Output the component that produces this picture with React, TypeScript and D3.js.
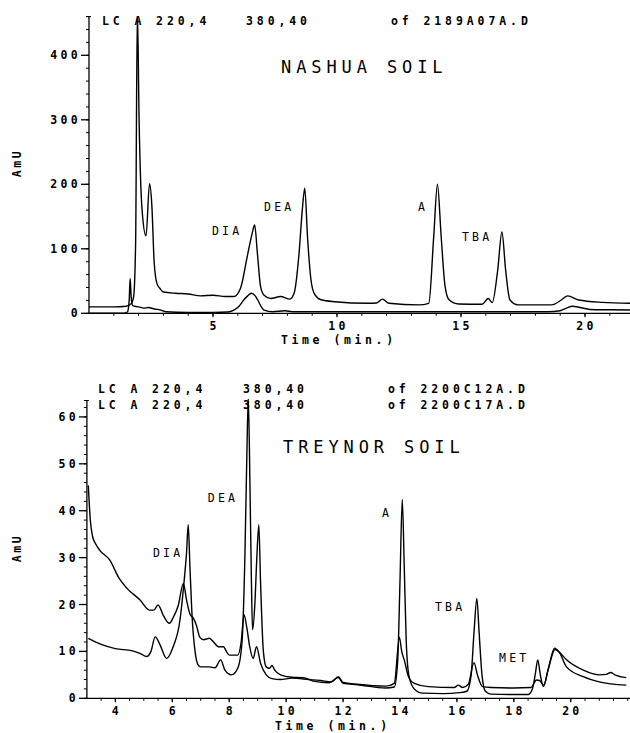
import React from 'react';
import * as d3 from 'd3';

const W = 630;
const H = 733;
const FONT = '"DejaVu Sans Mono", "Liberation Mono", monospace';

// ---- Nashua soil (top) ----
const nashuaTimeS = [0, 1.0, 1.5, 1.7, 1.8, 1.88, 1.95, 2.02, 2.14, 2.3, 2.44, 2.53, 2.63, 2.74, 2.87, 3.0, 3.5, 4.0, 4.5, 5.0, 5.5, 5.84, 6.11, 6.38, 6.58, 6.68, 6.79, 6.92, 7.06, 7.33, 7.73, 8.1, 8.27, 8.47, 8.6, 8.7, 8.81, 8.95, 9.08, 9.36, 9.9, 11.25, 11.6, 11.83, 12.1, 13.3, 13.7, 13.9, 14.05, 14.2, 14.36, 14.52, 14.9, 15.85, 16.1, 16.26, 16.48, 16.65, 16.8, 16.97, 17.3, 18.65, 19.06, 19.3, 19.75, 20.7, 21.9];
const nashuaAbsS = [10, 10, 11, 15, 26, 109, 470, 300, 160, 120, 201, 170, 78, 46, 38, 33, 31, 30, 27, 28, 26, 26, 39, 88, 124, 137, 93, 41, 28, 23, 26, 22, 31, 93, 160, 194, 119, 52, 31, 21, 18, 15.5, 16, 22, 15.5, 13, 15.5, 119, 200, 119, 41, 21, 14.4, 14, 23, 16.5, 67, 126, 67, 21, 13, 13, 21, 27, 20.6, 17, 15.5];
const nashuaTimeB = [0, 1.4, 1.55, 1.62, 1.66, 1.7, 1.76, 1.85, 2.0, 2.2, 2.4, 2.6, 2.9, 3.1, 4.0, 5.0, 5.6, 5.84, 6.05, 6.24, 6.4, 6.55, 6.7, 6.8, 6.95, 7.06, 7.4, 7.9, 8.2, 9, 12, 15, 18.5, 19.0, 19.25, 19.5, 19.8, 20.2, 21, 21.9];
const nashuaAbsB = [0, 0, 2, 20, 54, 25, 12, 11, 10, 8, 9, 7, 5, 2.5, 1.5, 1.5, 2, 5, 11, 20.6, 27, 31, 27, 21, 10, 5, 2.5, 4, 2.5, 2.5, 2.5, 2.5, 2.5, 4, 8, 11, 9, 6, 5.5, 5];
const nashuaPeakNames = ['DIA', 'DEA', 'A', 'TBA'];
const nashuaPeakTimes = [4.96, 7.06, 13.27, 15.04];
const nashuaPeakAbs = [121, 158, 158, 112];
const nashuaYTicks = [0, 100, 200, 300, 400];
const nashuaXTicks = [5, 10, 15, 20];

// ---- Treynor soil (bottom) ----
const treynorTimeA = [3.05, 3.12, 3.2, 3.3, 3.46, 3.8, 4.14, 4.4, 4.86, 5.2, 5.35, 5.5, 5.7, 5.9, 6.03, 6.21, 6.39, 6.5, 6.62, 6.75, 6.85, 6.97, 7.1, 7.3, 7.45, 7.62, 7.8, 7.9, 8.0, 8.3, 8.42, 8.52, 8.62, 8.72, 8.84, 8.96, 9.1, 9.3, 9.5, 9.8, 10.2, 10.8, 11.2, 11.6, 11.83, 12.0, 12.5, 13.5, 13.8, 13.98, 14.06, 14.15, 14.3, 14.5, 15.0, 15.9, 16.05, 16.2, 16.4, 16.6, 16.72, 16.9, 17.2, 18.0, 18.6, 18.8, 18.9, 19.05, 19.2, 19.45, 19.6, 19.85, 20.44, 21.0, 21.25, 21.4, 21.55, 21.95];
const treynorAbsA = [45.4, 38, 34.5, 33, 31.5, 29.5, 25.5, 23.5, 21, 18.8, 18.8, 19.9, 17.5, 16, 17.2, 19.8, 24.5, 21, 18, 17, 15.5, 13, 12.5, 12.8, 12, 11, 11, 10, 9.2, 9.2, 12, 17.8, 15, 11, 8.5, 11, 7.5, 5, 4.2, 4, 4.3, 4, 3.8, 3.5, 4.6, 3.4, 3, 2.6, 3.2, 13, 10, 8.2, 4.6, 3.2, 2.5, 2.3, 2.8, 2.3, 3, 7.6, 5, 2.5, 2.3, 2.2, 2.3, 3.9, 3.8, 2.8, 6, 10.4, 9.8, 8.2, 6, 5, 5.1, 5.5, 5, 4.4];
const treynorTimeB = [3.05, 3.5, 4.0, 4.6, 4.86, 5.1, 5.25, 5.4, 5.57, 5.8, 6.03, 6.27, 6.4, 6.5, 6.56, 6.62, 6.7, 6.8, 6.9, 7.0, 7.3, 7.5, 7.7, 7.85, 8.08, 8.3, 8.45, 8.55, 8.62, 8.67, 8.73, 8.78, 8.82, 8.9, 8.97, 9.04, 9.1, 9.2, 9.3, 9.42, 9.5, 9.6, 9.8, 10.2, 10.6, 11.0, 11.5, 11.83, 12.0, 12.5, 13.5, 13.8, 13.92, 14.0, 14.08, 14.15, 14.22, 14.32, 14.5, 14.8, 15.5, 16.1, 16.35, 16.5, 16.6, 16.7, 16.78, 16.88, 17.0, 17.2, 18.0, 18.5, 18.65, 18.75, 18.84, 18.93, 19.04, 19.2, 19.43, 19.6, 19.85, 20.44, 21.0, 21.95];
const treynorAbsB = [12.8, 11.5, 10.6, 10.1, 9.6, 8.9, 10, 13.1, 11.4, 8.5, 11, 16.7, 24, 31, 37, 28, 17, 10, 7.2, 6.7, 6.7, 6.5, 8.2, 6, 5, 6.4, 12, 30, 52, 64, 45, 25, 14.6, 20, 30, 37, 25, 10, 6.7, 6.4, 7, 6, 5, 4.5, 4.4, 3.6, 3.3, 4.4, 3.2, 2.9, 2.2, 2.4, 8, 25, 42.4, 28, 12, 4.6, 2, 1.1, 1, 1.2, 1.5, 5, 14, 21.3, 14, 5, 1.5, 0.9, 0.8, 0.8, 2, 5, 8.2, 5, 2.5, 6, 10.7, 9.8, 6.7, 4.6, 3.5, 2.8];
const treynorPeakNames = ['DIA', 'DEA', 'A', 'TBA', 'MET'];
const treynorPeakTimes = [5.32, 7.25, 13.37, 15.23, 17.48];
const treynorPeakAbs = [30.1, 41.9, 38.7, 18.6, 7.7];
const treynorYTicks = [0, 10, 20, 30, 40, 50, 60];
const treynorXTicks = [4, 6, 8, 10, 12, 14, 16, 18, 20];

const xTop = d3.scaleLinear().domain([0, 22]).range([89, 634.6]);
const yTop = d3.scaleLinear().domain([0, 460]).range([313.3, 16.6]);
const xBot = d3.scaleLinear().domain([3, 22]).range([86.9, 627.7]);
const yBot = d3.scaleLinear().domain([0, 63.5]).range([698.3, 400.5]);

const tickStyle = { fontFamily: FONT, fontSize: 11.5, fontWeight: 700, letterSpacing: 3.3 } as const;
const headStyle = { fontFamily: FONT, fontSize: 11.5, fontWeight: 700, letterSpacing: 3.9 } as const;
const titleStyle = { fontFamily: FONT, fontSize: 17, fontWeight: 400, letterSpacing: 4.9 } as const;
const peakStyle = { fontFamily: FONT, fontSize: 11.5, fontWeight: 400, letterSpacing: 3.2 } as const;

function tracePath(x, y, times, values) {
  const line = d3.line<number>()
    .x((_, i) => x(times[i]))
    .y(d => y(d))
    .curve(d3.curveMonotoneX);
  return line(values);
}

function Axes({ x, y, yMajor, yMinor, xMajor, xMinor, id }) {
  const x0 = x.range()[0];
  const yTopEnd = y.range()[1];
  const y0 = y(0);
  return (
    <g stroke="#000" fill="none">
      <line x1={x0} x2={x0} y1={y0} y2={yTopEnd} strokeWidth={1.3} />
      <line x1={x0} x2={W} y1={y0} y2={y0} strokeWidth={1.2} />
      {yMinor.map(v => (
        <line key={`ym${id}${v}`} x1={x0 - 3} x2={x0} y1={y(v)} y2={y(v)} strokeWidth={1} />
      ))}
      <line x1={x0 - 3} x2={x0 + 2} y1={yTopEnd} y2={yTopEnd} strokeWidth={1} />
      {yMajor.map(v => (
        <line key={`yM${id}${v}`} x1={x0 - 8} x2={x0} y1={y(v)} y2={y(v)} strokeWidth={1.3} />
      ))}
      {xMinor.map(v => (
        <line key={`xm${id}${v}`} x1={x(v)} x2={x(v)} y1={y0} y2={y0 + 2.5} strokeWidth={1} />
      ))}
      {xMajor.map(v => (
        <line key={`xM${id}${v}`} x1={x(v)} x2={x(v)} y1={y0} y2={y0 + 4} strokeWidth={1.2} />
      ))}
      <g stroke="none" fill="#000">
        {yMajor.map(v => (
          <text key={`yl${id}${v}`} x={x0 - 8} y={y(v) + 4} textAnchor="end" style={tickStyle}>{v}</text>
        ))}
      </g>
    </g>
  );
}

export default function App() {
  const yTopMinor = d3.range(0, 461, 20);
  const xTopMinor = d3.range(1, 22, 1);
  const yBotMinor = d3.range(0, 63.5, 2);
  const xBotMinor = d3.range(3.5, 22.01, 0.5);

  return (
    <div style={{ position: 'absolute', left: 0, top: 0, width: W, height: H, background: '#fff' }}>
      <svg width={W} height={H} style={{ display: 'block' }}>
        <rect width={W} height={H} fill="#fff" />
        <defs>
          <clipPath id="clipTop">
            <rect x={89} y={16} width={W - 89} height={300} />
          </clipPath>
          <clipPath id="clipBot">
            <rect x={86.9} y={399} width={W - 86.9} height={302} />
          </clipPath>
        </defs>

        {/* top panel */}
        <text x={102} y={25} style={headStyle}>LC A 220,4</text>
        <text x={246} y={25} style={headStyle}>380,40</text>
        <text x={391} y={25} style={headStyle}>of 2189A07A.D</text>
        <text x={281} y={73} style={titleStyle}>NASHUA SOIL</text>
        <Axes x={xTop} y={yTop} yMajor={nashuaYTicks} yMinor={yTopMinor} xMajor={nashuaXTicks} xMinor={xTopMinor} id="t" />
        {nashuaXTicks.map(v => (
          <text key={`xt${v}`} x={xTop(v)} dx={1.6} y={330} textAnchor="middle" style={tickStyle}>{v}</text>
        ))}
        <text x={xTop(10)} dx={1.8} y={344} textAnchor="middle" style={{ ...tickStyle, letterSpacing: 3.6 }}>Time (min.)</text>
        <text transform="translate(21,163) rotate(-90)" textAnchor="middle" style={{ ...tickStyle, letterSpacing: 2.5 }}>AmU</text>
        <g clipPath="url(#clipTop)" fill="none" stroke="#000" strokeWidth={1.4} strokeLinejoin="round">
          <path d={tracePath(xTop, yTop, nashuaTimeB, nashuaAbsB)} />
          <path d={tracePath(xTop, yTop, nashuaTimeS, nashuaAbsS)} />
        </g>
        {nashuaPeakNames.map((n, i) => (
          <text key={`np${n}`} x={xTop(nashuaPeakTimes[i])} y={yTop(nashuaPeakAbs[i])} style={peakStyle}>{n}</text>
        ))}

        {/* bottom panel */}
        <text x={98} y={393} style={headStyle}>LC A 220,4</text>
        <text x={243} y={393} style={headStyle}>380,40</text>
        <text x={388} y={393} style={headStyle}>of 2200C12A.D</text>
        <text x={98} y={409} style={headStyle}>LC A 220,4</text>
        <text x={243} y={409} style={headStyle}>380,40</text>
        <text x={388} y={409} style={headStyle}>of 2200C17A.D</text>
        <text x={283} y={452.5} style={titleStyle}>TREYNOR SOIL</text>
        <Axes x={xBot} y={yBot} yMajor={treynorYTicks} yMinor={yBotMinor} xMajor={treynorXTicks} xMinor={xBotMinor} id="b" />
        {treynorXTicks.map(v => (
          <text key={`bt${v}`} x={xBot(v)} dx={1.6} y={715} textAnchor="middle" style={tickStyle}>{v}</text>
        ))}
        <text x={331} dx={1.8} y={730} textAnchor="middle" style={{ ...tickStyle, letterSpacing: 3.6 }}>Time (min.)</text>
        <text transform="translate(21,548) rotate(-90)" textAnchor="middle" style={{ ...tickStyle, letterSpacing: 2.5 }}>AmU</text>
        <g clipPath="url(#clipBot)" fill="none" stroke="#000" strokeWidth={1.4} strokeLinejoin="round">
          <path d={tracePath(xBot, yBot, treynorTimeA, treynorAbsA)} />
          <path d={tracePath(xBot, yBot, treynorTimeB, treynorAbsB)} />
        </g>
        {treynorPeakNames.map((n, i) => (
          <text key={`tp${n}`} x={xBot(treynorPeakTimes[i])} y={yBot(treynorPeakAbs[i])} style={peakStyle}>{n}</text>
        ))}
      </svg>
    </div>
  );
}
